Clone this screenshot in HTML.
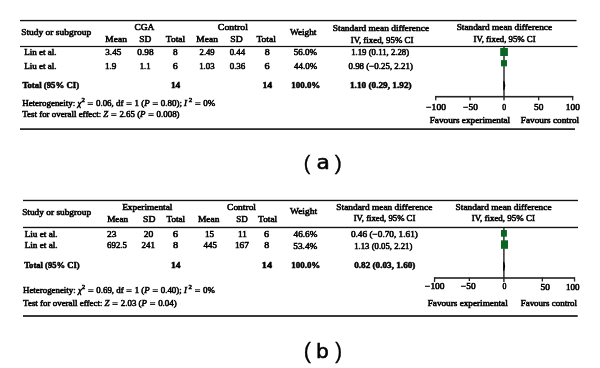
<!DOCTYPE html>
<html><head><meta charset="utf-8"><title>Forest plots</title>
<style>html,body{margin:0;padding:0;background:#fff;width:600px;height:368px;overflow:hidden}svg{display:block}</style>
</head><body>
<svg width="600" height="368" viewBox="0 0 600 368">
<rect width="600" height="368" fill="#fff"/>

<!-- panel a rules -->
<rect x="20" y="19.9" width="556.5" height="1.35" fill="#111"/>
<rect x="20" y="45.9" width="557.5" height="1.2" fill="#111"/>
<rect x="20" y="128.3" width="555" height="1.6" fill="#111"/>
<!-- panel a plot -->
<rect x="503.3" y="47" width="1.4" height="53.3" fill="#222"/>
<rect x="500.2" y="48" width="7.7" height="8" fill="#0a6622"/>
<rect x="501" y="60.1" width="6" height="6.2" fill="#0a6622"/>
<path d="M503.3 80.8 L504.5 81.3 L505.3 85.5 L504.5 89.8 L503.3 90.3 Z" fill="#000"/>
<rect x="435.2" y="95.9" width="138" height="1.6" fill="#222"/>
<rect x="435.1" y="96" width="1.3" height="4.3" fill="#222"/>
<rect x="469.4" y="96" width="1.3" height="4.3" fill="#222"/>
<rect x="538" y="96" width="1.3" height="4.3" fill="#222"/>
<rect x="572" y="96" width="1.3" height="4.3" fill="#222"/>
<!-- panel b rules -->
<rect x="23" y="199.8" width="555" height="1.35" fill="#111"/>
<rect x="23" y="226.8" width="555" height="1.35" fill="#111"/>
<rect x="23" y="315" width="554.7" height="2" fill="#3a3a3a"/>
<!-- panel b plot -->
<rect x="503.2" y="228" width="1.4" height="54" fill="#222"/>
<rect x="501" y="230" width="5.9" height="6.7" fill="#0a6622"/>
<rect x="501" y="240.3" width="7" height="8.5" fill="#0a6622"/>
<path d="M503.2 261.8 L504.4 262.3 L505.1 266.3 L504.4 270.4 L503.2 270.9 Z" fill="#000"/>
<rect x="434" y="277.2" width="141" height="1.6" fill="#222"/>
<rect x="433.9" y="277.5" width="1.3" height="4.5" fill="#222"/>
<rect x="468.7" y="277.5" width="1.3" height="3.5" fill="#222"/>
<rect x="541.7" y="277.5" width="1.3" height="4" fill="#222"/>
<rect x="573.9" y="277.5" width="1.3" height="4" fill="#222"/>

<g font-family="'Liberation Serif', serif" font-size="8.8" fill="#000" stroke="#000" stroke-width="0.55">
<text x="21.15" y="35.30" textLength="70.00" lengthAdjust="spacingAndGlyphs">Study or subgroup</text>
<text x="134.57" y="30.00" textLength="19.81" lengthAdjust="spacingAndGlyphs">CGA</text>
<text x="217.85" y="30.00" textLength="30.06" lengthAdjust="spacingAndGlyphs">Control</text>
<text x="105.38" y="41.50" textLength="21.47" lengthAdjust="spacingAndGlyphs">Mean</text>
<text x="139.36" y="41.50" textLength="12.01" lengthAdjust="spacingAndGlyphs">SD</text>
<text x="165.78" y="41.50" textLength="19.39" lengthAdjust="spacingAndGlyphs">Total</text>
<text x="196.38" y="41.50" textLength="21.47" lengthAdjust="spacingAndGlyphs">Mean</text>
<text x="230.34" y="41.50" textLength="12.34" lengthAdjust="spacingAndGlyphs">SD</text>
<text x="256.48" y="41.50" textLength="19.39" lengthAdjust="spacingAndGlyphs">Total</text>
<text x="290.00" y="35.30" textLength="26.35" lengthAdjust="spacingAndGlyphs">Weight</text>
<text x="332.86" y="31.00" textLength="96.20" lengthAdjust="spacingAndGlyphs">Standard mean difference</text>
<text x="350.70" y="43.00" textLength="62.67" lengthAdjust="spacingAndGlyphs">IV, fixed, 95% CI</text>
<text x="456.67" y="30.10" textLength="95.49" lengthAdjust="spacingAndGlyphs">Standard mean difference</text>
<text x="473.60" y="41.60" textLength="62.06" lengthAdjust="spacingAndGlyphs">IV, fixed, 95% CI</text>
<text x="24.19" y="54.50" textLength="32.45" lengthAdjust="spacingAndGlyphs">Lin et al.</text>
<text x="105.28" y="54.50" textLength="16.03" lengthAdjust="spacingAndGlyphs">3.45</text>
<text x="137.38" y="54.50" textLength="16.23" lengthAdjust="spacingAndGlyphs">0.98</text>
<text x="172.98" y="54.50" textLength="4.63" lengthAdjust="spacingAndGlyphs">8</text>
<text x="199.61" y="54.50" textLength="15.08" lengthAdjust="spacingAndGlyphs">2.49</text>
<text x="229.70" y="54.50" textLength="15.40" lengthAdjust="spacingAndGlyphs">0.44</text>
<text x="264.66" y="54.50" textLength="4.98" lengthAdjust="spacingAndGlyphs">8</text>
<text x="293.74" y="54.50" textLength="23.35" lengthAdjust="spacingAndGlyphs">56.0%</text>
<text x="351.20" y="54.50" textLength="57.98" lengthAdjust="spacingAndGlyphs">1.19 (0.11, 2.28)</text>
<text x="24.19" y="68.80" textLength="32.45" lengthAdjust="spacingAndGlyphs">Liu et al.</text>
<text x="104.97" y="68.80" textLength="11.45" lengthAdjust="spacingAndGlyphs">1.9</text>
<text x="139.72" y="68.80" textLength="10.77" lengthAdjust="spacingAndGlyphs">1.1</text>
<text x="172.85" y="69.00" textLength="4.99" lengthAdjust="spacingAndGlyphs">6</text>
<text x="199.20" y="69.00" textLength="15.40" lengthAdjust="spacingAndGlyphs">1.03</text>
<text x="229.70" y="69.00" textLength="15.61" lengthAdjust="spacingAndGlyphs">0.36</text>
<text x="264.54" y="69.00" textLength="5.11" lengthAdjust="spacingAndGlyphs">6</text>
<text x="294.05" y="68.80" textLength="23.04" lengthAdjust="spacingAndGlyphs">44.0%</text>
<text x="348.45" y="68.80" textLength="64.48" lengthAdjust="spacingAndGlyphs">0.98 (−0.25, 2.21)</text>
<text x="22.40" y="88.40" textLength="56.78" lengthAdjust="spacingAndGlyphs" font-weight="bold" stroke-width="0.5">Total (95% CI)</text>
<text x="170.96" y="88.40" textLength="9.25" lengthAdjust="spacingAndGlyphs" font-weight="bold" stroke-width="0.5">14</text>
<text x="262.53" y="88.40" textLength="9.69" lengthAdjust="spacingAndGlyphs" font-weight="bold" stroke-width="0.5">14</text>
<text x="291.29" y="88.40" textLength="29.02" lengthAdjust="spacingAndGlyphs" font-weight="bold" stroke-width="0.5">100.0%</text>
<text x="350.01" y="88.40" textLength="61.61" lengthAdjust="spacingAndGlyphs" font-weight="bold" stroke-width="0.5">1.10 (0.29, 1.92)</text>
<text x="22.20" y="105.60" textLength="193.09" lengthAdjust="spacingAndGlyphs">Heterogeneity: <tspan font-style="italic">χ</tspan><tspan dy="-3.4" font-size="6.8">2</tspan><tspan dy="3.4"> <tspan font-family="'DejaVu Serif', serif" font-size="7.8" stroke-width="0.25">=</tspan> 0.06, df <tspan font-family="'DejaVu Serif', serif" font-size="7.8" stroke-width="0.25">=</tspan> 1 (</tspan><tspan font-style="italic">P</tspan> <tspan font-family="'DejaVu Serif', serif" font-size="7.8" stroke-width="0.25">=</tspan> 0.80); <tspan font-style="italic">I</tspan><tspan dy="-3.4" font-size="6.8"> 2</tspan><tspan dy="3.4"> <tspan font-family="'DejaVu Serif', serif" font-size="7.8" stroke-width="0.25">=</tspan> 0%</tspan></text>
<text x="22.30" y="116.80" textLength="157.25" lengthAdjust="spacingAndGlyphs">Test for overall effect: <tspan font-style="italic">Z</tspan> <tspan font-family="'DejaVu Serif', serif" font-size="7.8" stroke-width="0.25">=</tspan> 2.65 (<tspan font-style="italic">P</tspan> <tspan font-family="'DejaVu Serif', serif" font-size="7.8" stroke-width="0.25">=</tspan> 0.008)</text>
<text x="426.27" y="109.50" textLength="19.63" lengthAdjust="spacingAndGlyphs">−100</text>
<text x="463.28" y="109.50" textLength="14.61" lengthAdjust="spacingAndGlyphs">−50</text>
<text x="502.24" y="109.50" textLength="3.82" lengthAdjust="spacingAndGlyphs">0</text>
<text x="533.97" y="109.50" textLength="9.35" lengthAdjust="spacingAndGlyphs">50</text>
<text x="565.85" y="109.50" textLength="13.96" lengthAdjust="spacingAndGlyphs">100</text>
<text x="429.68" y="122.60" textLength="80.51" lengthAdjust="spacingAndGlyphs">Favours experimental</text>
<text x="520.88" y="122.60" textLength="58.31" lengthAdjust="spacingAndGlyphs">Favours control</text>
<text x="22.16" y="215.30" textLength="68.98" lengthAdjust="spacingAndGlyphs">Study or subgroup</text>
<text x="122.18" y="209.50" textLength="50.23" lengthAdjust="spacingAndGlyphs">Experimental</text>
<text x="227.07" y="209.50" textLength="28.94" lengthAdjust="spacingAndGlyphs">Control</text>
<text x="107.19" y="222.30" textLength="20.96" lengthAdjust="spacingAndGlyphs">Mean</text>
<text x="143.04" y="222.30" textLength="12.34" lengthAdjust="spacingAndGlyphs">SD</text>
<text x="166.49" y="222.30" textLength="18.67" lengthAdjust="spacingAndGlyphs">Total</text>
<text x="197.98" y="222.30" textLength="21.37" lengthAdjust="spacingAndGlyphs">Mean</text>
<text x="236.39" y="222.30" textLength="11.47" lengthAdjust="spacingAndGlyphs">SD</text>
<text x="258.09" y="222.30" textLength="19.08" lengthAdjust="spacingAndGlyphs">Total</text>
<text x="290.00" y="214.30" textLength="27.10" lengthAdjust="spacingAndGlyphs">Weight</text>
<text x="336.36" y="210.00" textLength="96.00" lengthAdjust="spacingAndGlyphs">Standard mean difference</text>
<text x="353.70" y="221.20" textLength="61.66" lengthAdjust="spacingAndGlyphs">IV, fixed, 95% CI</text>
<text x="455.61" y="210.00" textLength="96.00" lengthAdjust="spacingAndGlyphs">Standard mean difference</text>
<text x="471.70" y="221.20" textLength="63.17" lengthAdjust="spacingAndGlyphs">IV, fixed, 95% CI</text>
<text x="24.69" y="237.00" textLength="32.96" lengthAdjust="spacingAndGlyphs">Liu et al.</text>
<text x="107.07" y="236.60" textLength="9.45" lengthAdjust="spacingAndGlyphs">23</text>
<text x="143.77" y="236.60" textLength="9.56" lengthAdjust="spacingAndGlyphs">20</text>
<text x="172.81" y="236.60" textLength="5.35" lengthAdjust="spacingAndGlyphs">6</text>
<text x="204.97" y="236.60" textLength="9.14" lengthAdjust="spacingAndGlyphs">15</text>
<text x="237.97" y="236.60" textLength="8.83" lengthAdjust="spacingAndGlyphs">11</text>
<text x="264.04" y="236.60" textLength="5.11" lengthAdjust="spacingAndGlyphs">6</text>
<text x="293.54" y="237.20" textLength="23.81" lengthAdjust="spacingAndGlyphs">46.6%</text>
<text x="350.93" y="237.20" textLength="67.01" lengthAdjust="spacingAndGlyphs">0.46 (−0.70, 1.61)</text>
<text x="24.69" y="248.30" textLength="32.96" lengthAdjust="spacingAndGlyphs">Lin et al.</text>
<text x="107.10" y="248.40" textLength="19.90" lengthAdjust="spacingAndGlyphs">692.5</text>
<text x="141.59" y="248.40" textLength="13.41" lengthAdjust="spacingAndGlyphs">241</text>
<text x="172.94" y="248.40" textLength="5.21" lengthAdjust="spacingAndGlyphs">8</text>
<text x="203.60" y="248.40" textLength="13.41" lengthAdjust="spacingAndGlyphs">445</text>
<text x="234.95" y="248.40" textLength="14.07" lengthAdjust="spacingAndGlyphs">167</text>
<text x="264.16" y="248.40" textLength="4.98" lengthAdjust="spacingAndGlyphs">8</text>
<text x="293.22" y="248.50" textLength="24.13" lengthAdjust="spacingAndGlyphs">53.4%</text>
<text x="354.21" y="248.50" textLength="58.15" lengthAdjust="spacingAndGlyphs">1.13 (0.05, 2.21)</text>
<text x="24.20" y="267.90" textLength="55.47" lengthAdjust="spacingAndGlyphs" font-weight="bold" stroke-width="0.5">Total (95% CI)</text>
<text x="170.94" y="267.90" textLength="9.58" lengthAdjust="spacingAndGlyphs" font-weight="bold" stroke-width="0.5">14</text>
<text x="261.89" y="267.90" textLength="10.14" lengthAdjust="spacingAndGlyphs" font-weight="bold" stroke-width="0.5">14</text>
<text x="291.29" y="267.90" textLength="29.02" lengthAdjust="spacingAndGlyphs" font-weight="bold" stroke-width="0.5">100.0%</text>
<text x="354.19" y="267.90" textLength="61.19" lengthAdjust="spacingAndGlyphs" font-weight="bold" stroke-width="0.5">0.82 (0.03, 1.60)</text>
<text x="23.00" y="292.50" textLength="191.89" lengthAdjust="spacingAndGlyphs">Heterogeneity: <tspan font-style="italic">χ</tspan><tspan dy="-3.4" font-size="6.8">2</tspan><tspan dy="3.4"> <tspan font-family="'DejaVu Serif', serif" font-size="7.8" stroke-width="0.25">=</tspan> 0.69, df <tspan font-family="'DejaVu Serif', serif" font-size="7.8" stroke-width="0.25">=</tspan> 1 (</tspan><tspan font-style="italic">P</tspan> <tspan font-family="'DejaVu Serif', serif" font-size="7.8" stroke-width="0.25">=</tspan> 0.40); <tspan font-style="italic">I</tspan><tspan dy="-3.4" font-size="6.8"> 2</tspan><tspan dy="3.4"> <tspan font-family="'DejaVu Serif', serif" font-size="7.8" stroke-width="0.25">=</tspan> 0%</tspan></text>
<text x="23.10" y="305.70" textLength="153.65" lengthAdjust="spacingAndGlyphs">Test for overall effect: <tspan font-style="italic">Z</tspan> <tspan font-family="'DejaVu Serif', serif" font-size="7.8" stroke-width="0.25">=</tspan> 2.03 (<tspan font-style="italic">P</tspan> <tspan font-family="'DejaVu Serif', serif" font-size="7.8" stroke-width="0.25">=</tspan> 0.04)</text>
<text x="425.07" y="288.60" textLength="19.52" lengthAdjust="spacingAndGlyphs">−100</text>
<text x="461.08" y="289.00" textLength="14.61" lengthAdjust="spacingAndGlyphs">−50</text>
<text x="502.53" y="289.00" textLength="3.94" lengthAdjust="spacingAndGlyphs">0</text>
<text x="540.47" y="290.40" textLength="9.35" lengthAdjust="spacingAndGlyphs">50</text>
<text x="565.98" y="290.40" textLength="13.53" lengthAdjust="spacingAndGlyphs">100</text>
<text x="427.69" y="305.80" textLength="80.01" lengthAdjust="spacingAndGlyphs">Favours experimental</text>
<text x="520.70" y="305.70" textLength="56.39" lengthAdjust="spacingAndGlyphs">Favours control</text>
</g>
<g font-family="'DejaVu Sans', sans-serif" font-size="20" fill="#000" stroke="#000" stroke-width="0.6"><text font-family="'Liberation Sans', sans-serif" stroke-width="0.3" transform="matrix(0.9811,0,0,1.0428,303.82,170.22)">(</text>
<text transform="matrix(1.0870,0,0,0.9913,316.50,169.40)">a</text>
<text font-family="'Liberation Sans', sans-serif" stroke-width="0.3" transform="matrix(1.0577,0,0,1.0428,334.69,170.22)">)</text>
<text font-family="'Liberation Sans', sans-serif" stroke-width="0.3" transform="matrix(1.0755,0,0,1.0588,303.71,358.35)">(</text>
<text transform="matrix(1.0102,0,0,0.9484,316.08,357.72)">b</text>
<text font-family="'Liberation Sans', sans-serif" stroke-width="0.3" transform="matrix(1.0192,0,0,1.0588,335.20,358.35)">)</text></g>
</svg>
</body></html>
